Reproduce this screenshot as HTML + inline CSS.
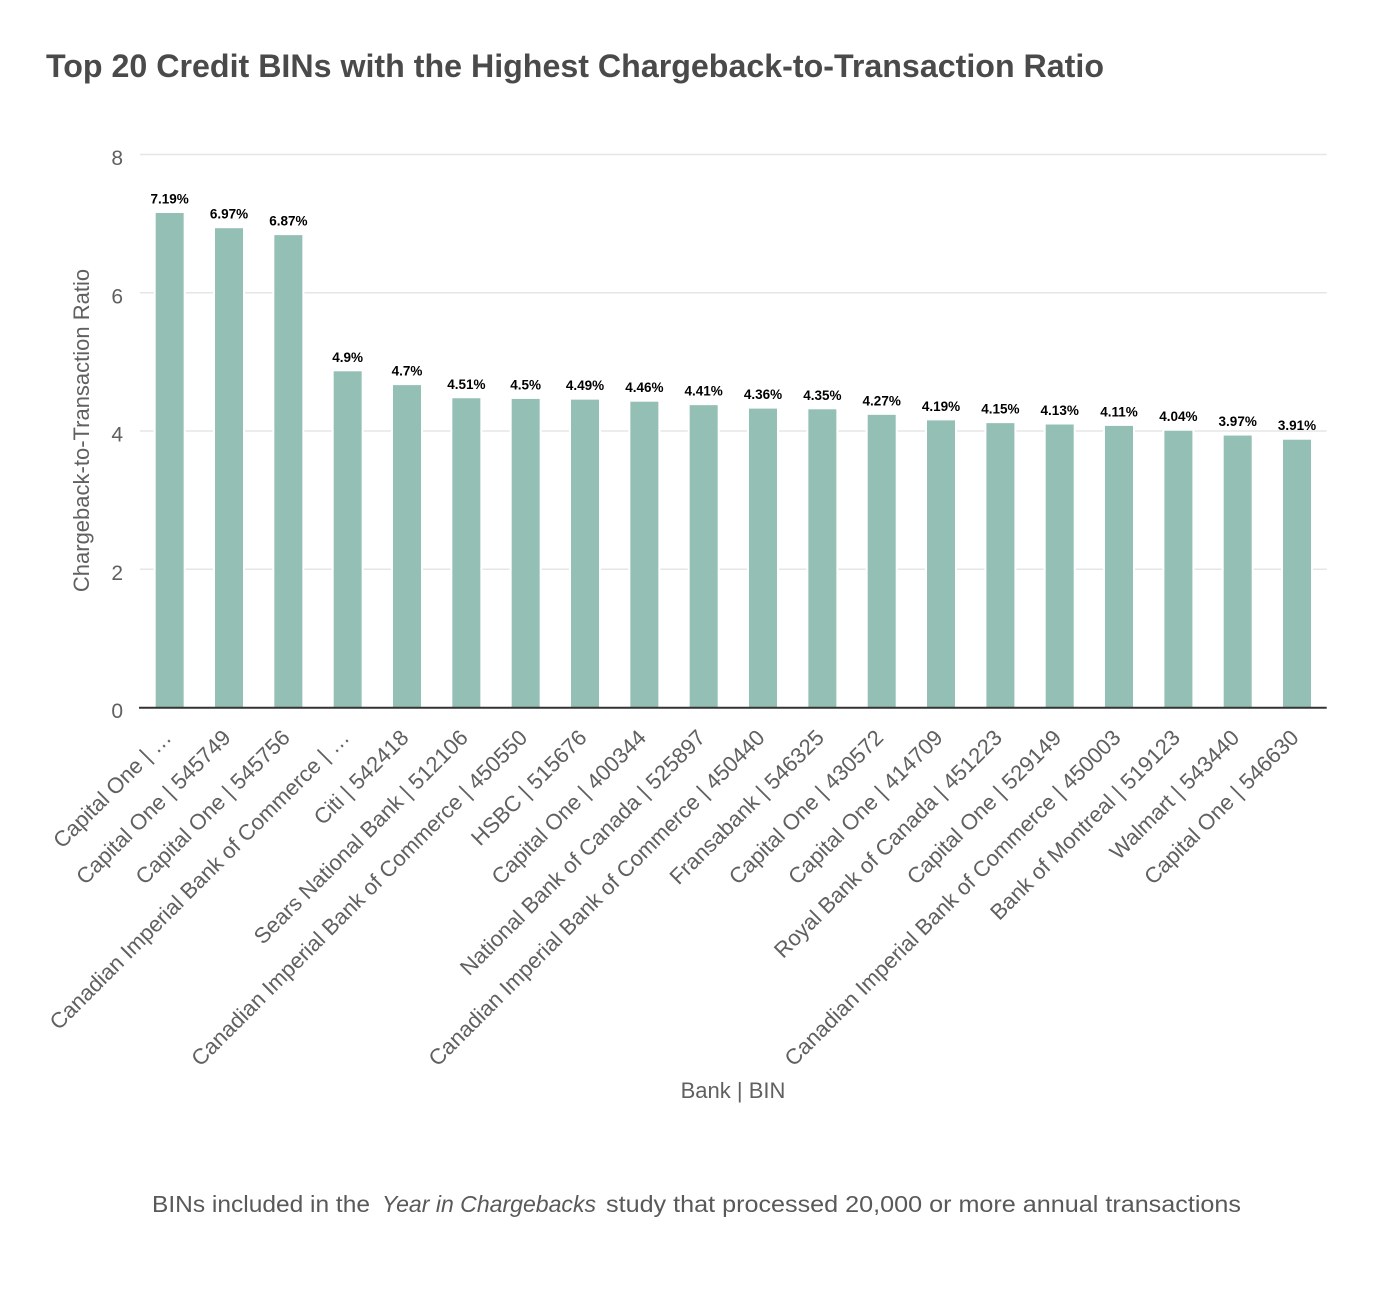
<!DOCTYPE html>
<html>
<head>
<meta charset="utf-8">
<style>
  html, body { margin: 0; padding: 0; background: #ffffff; }
  body { width: 1388px; height: 1304px; overflow: hidden; }
  svg { display: block; }
  .tick { font-family: "Liberation Sans", Arial, sans-serif; font-size: 21px; fill: #606060; }
  .xl { font-family: "Liberation Sans", Arial, sans-serif; font-size: 22px; fill: #606060; }
  .dl { font-family: "Liberation Sans", Arial, sans-serif; font-size: 13.5px; font-weight: bold; fill: #000; }
  .at { font-family: "Liberation Sans", Arial, sans-serif; font-size: 22px; fill: #606060; }
  .title { font-family: "Liberation Sans", Arial, sans-serif; font-size: 32px; font-weight: bold; fill: #4a4a4a; }
  .foot { font-family: "Liberation Sans", Arial, sans-serif; font-size: 23px; fill: #595959; }
</style>
</head>
<body>
<svg width="1388" height="1304" viewBox="0 0 1388 1304" xmlns="http://www.w3.org/2000/svg">
  <rect x="0" y="0" width="1388" height="1304" fill="#ffffff"/>

  <!-- Title -->
  <text class="title" x="46" y="77" textLength="1058" lengthAdjust="spacingAndGlyphs">Top 20 Credit BINs with the Highest Chargeback-to-Transaction Ratio</text>

  <!-- Gridlines -->
  <g stroke="#e6e6e6" stroke-width="1.5">
    <line x1="140" y1="154.5" x2="1326.7" y2="154.5"/>
    <line x1="140" y1="292.75" x2="1326.7" y2="292.75"/>
    <line x1="140" y1="431" x2="1326.7" y2="431"/>
    <line x1="140" y1="569.25" x2="1326.7" y2="569.25"/>
  </g>

  <!-- Y tick labels -->
  <g class="tick" text-anchor="end">
    <text x="123" y="165">8</text>
    <text x="123" y="303.25">6</text>
    <text x="123" y="441.5">4</text>
    <text x="123" y="579.75">2</text>
    <text x="123" y="718">0</text>
  </g>

  <!-- Y axis title -->
  <text class="at" text-anchor="middle" transform="translate(89,430.5) rotate(-90)">Chargeback-to-Transaction Ratio</text>

  <!-- Bars: white halo + green fill -->
  <g fill="#ffffff">
    <rect x="153.67" y="210.49" width="32" height="497.01"/>
    <rect x="213.0" y="225.70" width="32" height="481.8"/>
    <rect x="272.34" y="232.61" width="32" height="474.89"/>
    <rect x="331.67" y="368.79" width="32" height="338.71"/>
    <rect x="391.0" y="382.61" width="32" height="324.89"/>
    <rect x="450.34" y="395.75" width="32" height="311.75"/>
    <rect x="509.67" y="396.44" width="32" height="311.06"/>
    <rect x="569.0" y="397.13" width="32" height="310.37"/>
    <rect x="628.35" y="399.20" width="32" height="308.3"/>
    <rect x="687.68" y="402.66" width="32" height="304.84"/>
    <rect x="747.0" y="406.11" width="32" height="301.39"/>
    <rect x="806.35" y="406.81" width="32" height="300.69"/>
    <rect x="865.7" y="412.34" width="32" height="295.16"/>
    <rect x="925.0" y="417.87" width="32" height="289.63"/>
    <rect x="984.4" y="420.63" width="32" height="286.87"/>
    <rect x="1043.7" y="422.01" width="32" height="285.49"/>
    <rect x="1103.0" y="423.40" width="32" height="284.1"/>
    <rect x="1162.4" y="428.23" width="32" height="279.27"/>
    <rect x="1221.7" y="433.07" width="32" height="274.43"/>
    <rect x="1281.0" y="437.22" width="32" height="270.28"/>
  </g>
  <g fill="#94bfb5">
    <rect x="155.67" y="212.99" width="28" height="494.51"/>
    <rect x="215.0" y="228.20" width="28" height="479.3"/>
    <rect x="274.34" y="235.11" width="28" height="472.39"/>
    <rect x="333.67" y="371.29" width="28" height="336.21"/>
    <rect x="393.0" y="385.11" width="28" height="322.39"/>
    <rect x="452.34" y="398.25" width="28" height="309.25"/>
    <rect x="511.67" y="398.94" width="28" height="308.56"/>
    <rect x="571.0" y="399.63" width="28" height="307.87"/>
    <rect x="630.35" y="401.70" width="28" height="305.8"/>
    <rect x="689.68" y="405.16" width="28" height="302.34"/>
    <rect x="749.0" y="408.61" width="28" height="298.89"/>
    <rect x="808.35" y="409.31" width="28" height="298.19"/>
    <rect x="867.7" y="414.84" width="28" height="292.66"/>
    <rect x="927.0" y="420.37" width="28" height="287.13"/>
    <rect x="986.4" y="423.13" width="28" height="284.37"/>
    <rect x="1045.7" y="424.51" width="28" height="282.99"/>
    <rect x="1105.0" y="425.90" width="28" height="281.6"/>
    <rect x="1164.4" y="430.73" width="28" height="276.77"/>
    <rect x="1223.7" y="435.57" width="28" height="271.93"/>
    <rect x="1283.0" y="439.72" width="28" height="267.78"/>
  </g>

  <!-- Axis line -->
  <line x1="139" y1="707.7" x2="1326.7" y2="707.7" stroke="#333333" stroke-width="2"/>

  <!-- Data labels -->
  <g class="dl" text-anchor="middle">
    <text x="169.67" y="203.5">7.19%</text>
    <text x="229.0" y="218.7">6.97%</text>
    <text x="288.34" y="225.6">6.87%</text>
    <text x="347.67" y="361.8">4.9%</text>
    <text x="407.0" y="375.6">4.7%</text>
    <text x="466.34" y="388.75">4.51%</text>
    <text x="525.67" y="389.44">4.5%</text>
    <text x="585.0" y="390.13">4.49%</text>
    <text x="644.35" y="392.2">4.46%</text>
    <text x="703.68" y="395.66">4.41%</text>
    <text x="763.0" y="399.11">4.36%</text>
    <text x="822.35" y="399.81">4.35%</text>
    <text x="881.7" y="405.34">4.27%</text>
    <text x="941.0" y="410.87">4.19%</text>
    <text x="1000.4" y="413.63">4.15%</text>
    <text x="1059.7" y="415.01">4.13%</text>
    <text x="1119.0" y="416.4">4.11%</text>
    <text x="1178.4" y="421.23">4.04%</text>
    <text x="1237.7" y="426.07">3.97%</text>
    <text x="1297.0" y="430.22">3.91%</text>
  </g>

  <!-- X tick labels -->
  <g class="xl" text-anchor="end">
    <text transform="translate(172.67,739) rotate(-45)">Capital One | …</text>
    <text transform="translate(232.0,739) rotate(-45)">Capital One | 545749</text>
    <text transform="translate(291.34,739) rotate(-45)">Capital One | 545756</text>
    <text transform="translate(350.67,739) rotate(-45)">Canadian Imperial Bank of Commerce | …</text>
    <text transform="translate(410.0,739) rotate(-45)">Citi | 542418</text>
    <text transform="translate(469.34,739) rotate(-45)">Sears National Bank | 512106</text>
    <text transform="translate(528.67,739) rotate(-45)">Canadian Imperial Bank of Commerce | 450550</text>
    <text transform="translate(588.0,739) rotate(-45)">HSBC | 515676</text>
    <text transform="translate(647.35,739) rotate(-45)">Capital One | 400344</text>
    <text transform="translate(706.68,739) rotate(-45)">National Bank of Canada | 525897</text>
    <text transform="translate(766.0,739) rotate(-45)">Canadian Imperial Bank of Commerce | 450440</text>
    <text transform="translate(825.35,739) rotate(-45)">Fransabank | 546325</text>
    <text transform="translate(884.7,739) rotate(-45)">Capital One | 430572</text>
    <text transform="translate(944.0,739) rotate(-45)">Capital One | 414709</text>
    <text transform="translate(1003.4,739) rotate(-45)">Royal Bank of Canada | 451223</text>
    <text transform="translate(1062.7,739) rotate(-45)">Capital One | 529149</text>
    <text transform="translate(1122.0,739) rotate(-45)">Canadian Imperial Bank of Commerce | 450003</text>
    <text transform="translate(1181.4,739) rotate(-45)">Bank of Montreal | 519123</text>
    <text transform="translate(1240.7,739) rotate(-45)">Walmart | 543440</text>
    <text transform="translate(1300.0,739) rotate(-45)">Capital One | 546630</text>
  </g>

  <!-- X axis title -->
  <text class="at" x="733" y="1098" text-anchor="middle">Bank | BIN</text>

  <!-- Footnote -->
  <text class="foot" x="152" y="1212" textLength="218" lengthAdjust="spacingAndGlyphs">BINs included in the</text>
  <text class="foot" x="382" y="1212" font-style="italic" textLength="214" lengthAdjust="spacingAndGlyphs">Year in Chargebacks</text>
  <text class="foot" x="606" y="1212" textLength="635" lengthAdjust="spacingAndGlyphs">study that processed 20,000 or more annual transactions</text>
</svg>
</body>
</html>
